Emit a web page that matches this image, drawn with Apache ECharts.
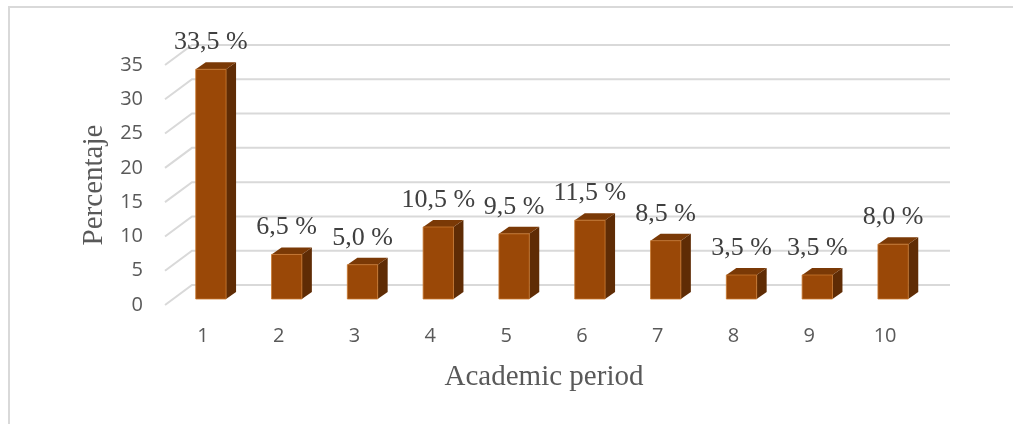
<!DOCTYPE html>
<html>
<head>
<meta charset="utf-8">
<title>Academic period</title>
<script src="https://cdn.jsdelivr.net/npm/echarts@6/dist/echarts.min.js"></script>
<style>
  html, body { margin: 0; padding: 0; background: #ffffff; }
  #chart { width: 1013px; height: 424px; }
</style>
</head>
<body>
<div id="chart"></div>
<script>
// Share of students by academic period (%)
const periods = ['1', '2', '3', '4', '5', '6', '7', '8', '9', '10'];
const shares = [33.5, 6.5, 5.0, 10.5, 9.5, 11.5, 8.5, 3.5, 3.5, 8.0];
const yTicks = [0, 5, 10, 15, 20, 25, 30, 35];

// Oblique depth of the chart box (back wall) and of each column
const WALL_DX = 27, WALL_DY = -20;
const BAR_SHIFT_X = 8, BAR_SHIFT_Y = -6;
const BAR_DX = 10, BAR_DY = -7;
const BAR_FRACTION = 0.4;

const COL_FRONT = '#9a4807';
const COL_TOP = '#7a3906';
const COL_SIDE = '#5f2c05';
const TEXT_COL = '#595959';

function fmtPct(v) {
  return v.toFixed(1).replace('.', ',') + ' %';
}

const chart = echarts.init(document.getElementById('chart'), null, { renderer: 'canvas' });

chart.setOption({
  backgroundColor: '#ffffff',
  animation: false,
  graphic: [{
    type: 'rect',
    shape: { x: 9, y: 7, width: 1030, height: 440 },
    style: { fill: 'none', stroke: '#d9d9d9', lineWidth: 2 },
    silent: true,
    z: -10
  }],
  grid: { left: 165, right: 90, top: 65, bottom: 119 },
  xAxis: {
    type: 'category',
    data: periods,
    axisLine: { show: false },
    axisTick: { show: false },
    splitLine: { show: false },
    axisLabel: {
      margin: 21,
      fontFamily: '"Open Sans", sans-serif',
      fontSize: 20,
      color: TEXT_COL
    },
    name: 'Academic period',
    nameLocation: 'middle',
    nameGap: 58,
    nameTextStyle: {
      fontFamily: '"Liberation Serif", "Times New Roman", serif',
      fontSize: 29,
      color: TEXT_COL
    }
  },
  yAxis: {
    type: 'value',
    min: 0,
    max: 35,
    interval: 5,
    axisLine: { show: false },
    axisTick: { show: false },
    splitLine: { show: false },
    axisLabel: {
      margin: 22,
      fontFamily: '"Open Sans", sans-serif',
      fontSize: 20,
      color: TEXT_COL,
      formatter: function (v) { return yTicks.indexOf(v) >= 0 ? String(v) : ''; }
    },
    name: 'Percentaje',
    nameLocation: 'middle',
    nameGap: 55,
    nameTextStyle: {
      fontFamily: '"Liberation Serif", "Times New Roman", serif',
      fontSize: 29,
      color: TEXT_COL
    }
  },
  series: [
    {
      // gridlines on the side wall and back wall
      type: 'custom',
      silent: true,
      z: 1,
      data: yTicks.map(function (v) { return [0, v]; }),
      renderItem: function (params, api) {
        const cs = params.coordSys;
        const y = api.coord([0, api.value(1)])[1];
        const x0 = cs.x, x1 = cs.x + cs.width;
        return {
          type: 'polyline',
          shape: { points: [[x0, y], [x0 + WALL_DX, y + WALL_DY], [x1 + WALL_DX, y + WALL_DY]] },
          style: { stroke: '#d9d9d9', lineWidth: 2, fill: 'none' }
        };
      }
    },
    {
      // 3-D columns with value labels
      type: 'custom',
      z: 2,
      data: shares.map(function (v, i) { return [i, v]; }),
      renderItem: function (params, api) {
        const i = api.value(0);
        const v = api.value(1);
        const top = api.coord([i, v]);
        const base = api.coord([i, 0]);
        const w = api.size([1, 0])[0] * BAR_FRACTION;
        const cx = top[0] + BAR_SHIFT_X;
        const xl = cx - w / 2, xr = cx + w / 2;
        const yt = top[1] + BAR_SHIFT_Y, yb = base[1] + BAR_SHIFT_Y;
        return {
          type: 'group',
          children: [
            {
              type: 'polygon',
              shape: { points: [[xr, yt], [xr + BAR_DX, yt + BAR_DY], [xr + BAR_DX, yb + BAR_DY], [xr, yb]] },
              style: { fill: COL_SIDE }
            },
            {
              type: 'polygon',
              shape: { points: [[xl, yt], [xl + BAR_DX, yt + BAR_DY], [xr + BAR_DX, yt + BAR_DY], [xr, yt]] },
              style: { fill: COL_TOP }
            },
            {
              type: 'rect',
              shape: { x: xl, y: yt, width: w, height: yb - yt },
              style: { fill: COL_FRONT, stroke: '#c8772f', lineWidth: 0.8 }
            },
            {
              type: 'text',
              x: cx,
              y: yt - 27,
              style: {
                text: fmtPct(v),
                fontFamily: '"Liberation Serif", "Times New Roman", serif',
                fontSize: 26,
                fill: '#404040',
                align: 'center',
                verticalAlign: 'middle'
              }
            }
          ]
        };
      }
    }
  ]
});
</script>
</body>
</html>
